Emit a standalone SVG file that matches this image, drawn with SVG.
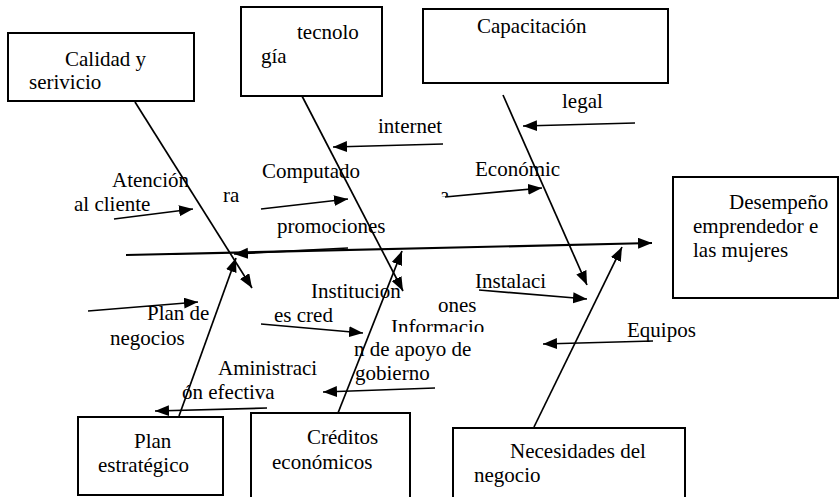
<svg xmlns="http://www.w3.org/2000/svg" width="840" height="497" viewBox="0 0 840 497">
<style>
text{font-family:"Liberation Serif","Times New Roman",serif;font-size:21px;fill:#000}
.box{fill:#fff;stroke:#000;stroke-width:2}
.ln{stroke:#000;stroke-width:1.7;fill:none;marker-end:url(#ah)}
.spine{stroke-width:2.2}
</style>
<defs>
<marker id="ah" markerUnits="userSpaceOnUse" markerWidth="15" markerHeight="12" refX="14" refY="5.5" orient="auto" viewBox="0 0 15 12">
<path d="M0,0 L14,5.5 L0,11 Z" fill="#000"/>
</marker>
<clipPath id="clipInfo"><rect x="380" y="316" width="120" height="16"/></clipPath>
<clipPath id="clipA"><rect x="436" y="185" width="14" height="11.5"/></clipPath>
</defs>
<rect width="840" height="497" fill="#fff"/>

<g id="connectors">
<line class="ln spine" x1="126" y1="255" x2="652" y2="243"/>
<line class="ln" x1="135" y1="102" x2="252" y2="288"/>
<line class="ln" x1="302" y1="96" x2="403" y2="291"/>
<line class="ln" x1="503" y1="95" x2="587" y2="285"/>
<line class="ln" x1="179" y1="416" x2="236" y2="258"/>
<line class="ln" x1="338" y1="413" x2="402" y2="251"/>
<line class="ln" x1="534" y1="427" x2="622" y2="247"/>
<line class="ln" x1="443" y1="144" x2="333" y2="147"/>
<line class="ln" x1="635" y1="123" x2="523" y2="126"/>
<line class="ln" x1="114" y1="219" x2="193" y2="209"/>
<line class="ln" x1="261" y1="209" x2="348" y2="199"/>
<line class="ln" x1="445" y1="197" x2="542" y2="188"/>
<line class="ln" x1="348" y1="248" x2="234" y2="254"/>
<line class="ln" x1="88" y1="311" x2="198" y2="302"/>
<line class="ln" x1="261" y1="324" x2="363" y2="333"/>
<line class="ln" x1="267" y1="408" x2="155" y2="411"/>
<line class="ln" x1="435" y1="388" x2="323" y2="392"/>
<line class="ln" x1="479" y1="290" x2="587" y2="299"/>
<line class="ln" x1="653" y1="341" x2="543" y2="344"/>
</g>

<g id="labels">
<text x="378" y="133">internet</text>
<text x="562" y="108">legal</text>
<text x="112" y="187">Atención</text>
<text x="74" y="211">al cliente</text>
<text x="262" y="178">Computado</text>
<text x="223" y="202">ra</text>
<text x="475" y="176">Económic</text>
<text x="440" y="202" clip-path="url(#clipA)">a</text>
<text x="277" y="233">promociones</text>
<text x="147" y="320">Plan de</text>
<text x="110" y="345">negocios</text>
<text x="311" y="298">Institucion</text>
<text x="274" y="322">es cred</text>
<text x="438" y="312">ones</text>
<text x="391" y="334" clip-path="url(#clipInfo)">Informacio</text>
<text x="354" y="356">n de apoyo de</text>
<text x="355" y="380">gobierno</text>
<text x="218" y="375">Aministraci</text>
<text x="182" y="399">ón efectiva</text>
<text x="475" y="288">Instalaci</text>
<text x="627" y="337">Equipos</text>
</g>

<g id="calidad">
<rect class="box" x="8" y="33" width="186" height="68"/>
<text x="65" y="66">Calidad y</text>
<text x="29" y="89">serivicio</text>
</g>
<g id="tecnologia">
<rect class="box" x="241" y="7" width="141" height="89"/>
<text x="297" y="39">tecnolo</text>
<text x="261" y="63">gía</text>
</g>
<g id="capacitacion">
<rect class="box" x="423" y="9" width="245" height="74"/>
<text x="477" y="33">Capacitación</text>
</g>
<g id="desempeno">
<rect class="box" x="673" y="177" width="165" height="121"/>
<text x="729" y="209">Desempeño</text>
<text x="693" y="233">emprendedor e</text>
<text x="693" y="257">las mujeres</text>
</g>
<g id="plan-estrategico">
<rect class="box" x="78" y="417" width="145" height="78"/>
<text x="134" y="448">Plan</text>
<text x="98" y="472">estratégico</text>
</g>
<g id="creditos">
<rect class="box" x="251" y="413" width="159" height="92"/>
<text x="307" y="444">Créditos</text>
<text x="272" y="469">económicos</text>
</g>
<g id="necesidades">
<rect class="box" x="453" y="428" width="232" height="77"/>
<text x="510" y="458">Necesidades del</text>
<text x="474" y="482">negocio</text>
</g>
</svg>
